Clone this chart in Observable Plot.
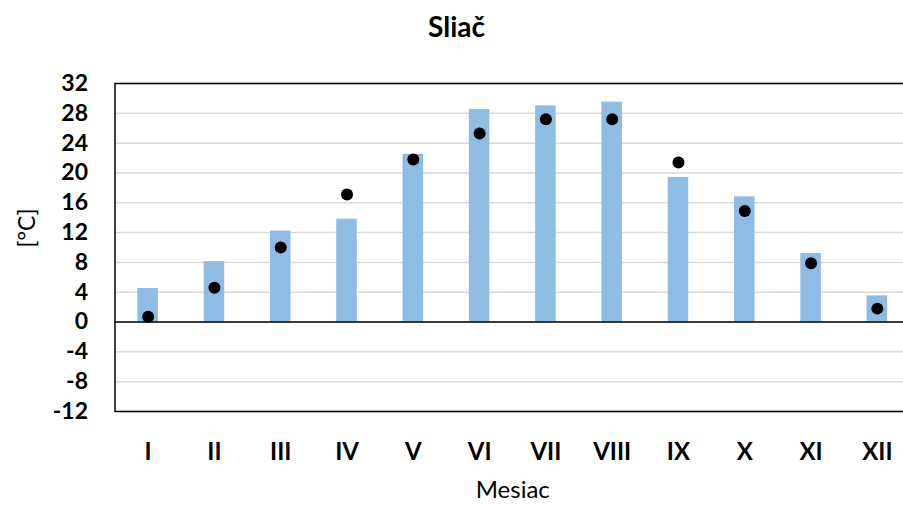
<!DOCTYPE html>
<html><head><meta charset="utf-8">
<script src="https://cdn.jsdelivr.net/npm/d3@7"></script>
<script src="https://cdn.jsdelivr.net/npm/@observablehq/plot@0.6"></script>
<style>
body{margin:0;overflow:hidden;background:#fff;font-family:Lato,"Open Sans",sans-serif;}
#title{width:903px;height:60px;box-sizing:border-box;padding-top:10px;padding-left:10px;text-align:center;font-size:28px;line-height:32px;font-weight:bold;color:#000;}
#chart svg{max-width:none !important;}
</style>
</head><body>
<div id="title">Sliač</div>
<div id="chart"></div>
<script>
const months = ["I","II","III","IV","V","VI","VII","VIII","IX","X","XI","XII"];
const barValues = [4.5, 8.1, 12.2, 13.8, 22.5, 28.5, 29.0, 29.5, 19.4, 16.8, 9.2, 3.5];
const dotValues = [0.7, 4.6, 10.0, 17.1, 21.8, 25.3, 27.2, 27.2, 21.4, 14.9, 7.9, 1.8];
const yTicks = [-12, -8, -4, 0, 4, 8, 12, 16, 20, 24, 28, 32];

const bars = months.map((m, i) => ({month: m, value: barValues[i]}));
const dots = months.map((m, i) => ({month: m, value: dotValues[i]}));

const chart = Plot.plot({
  width: 910,
  height: 445,
  marginTop: 23,
  marginBottom: 94,
  marginLeft: 114.5,
  marginRight: 0,
  style: {fontFamily: "Lato, 'Open Sans', sans-serif", color: "#000", background: "#fff", maxWidth: "none"},
  x: {domain: months, paddingInner: 0.69, paddingOuter: 0.345, round: false, label: null},
  y: {domain: [-12, 32], label: null},
  marks: [
    Plot.gridY(yTicks, {stroke: "#d9d9d9", strokeOpacity: 1, strokeWidth: 1.5}),
    Plot.barY(bars, {x: "month", y: "value", fill: "#8fbce3"}),
    Plot.ruleY([0], {stroke: "#000", strokeWidth: 1.5}),
    Plot.frame({stroke: "#000", strokeWidth: 1.5}),
    Plot.dot(dots, {x: "month", y: "value", r: 6, fill: "#000", stroke: null}),
    Plot.axisY(yTicks, {tickSize: 0, tickPadding: 27, fontSize: 23, fontWeight: "bold", label: null, tickFormat: d => String(d)}),
    Plot.axisX({tickSize: 0, tickPadding: 31, fontSize: 24, fontWeight: "bold", label: null}),
    Plot.text(["[°C]"], {frameAnchor: "left", dx: -87, rotate: -90, fontSize: 23, fill: "#000"}),
    Plot.text(["Mesiac"], {frameAnchor: "bottom", lineAnchor: "middle", dy: 79, fontSize: 24, fill: "#000"})
  ]
});
document.getElementById("chart").appendChild(chart);
</script>
</body></html>
